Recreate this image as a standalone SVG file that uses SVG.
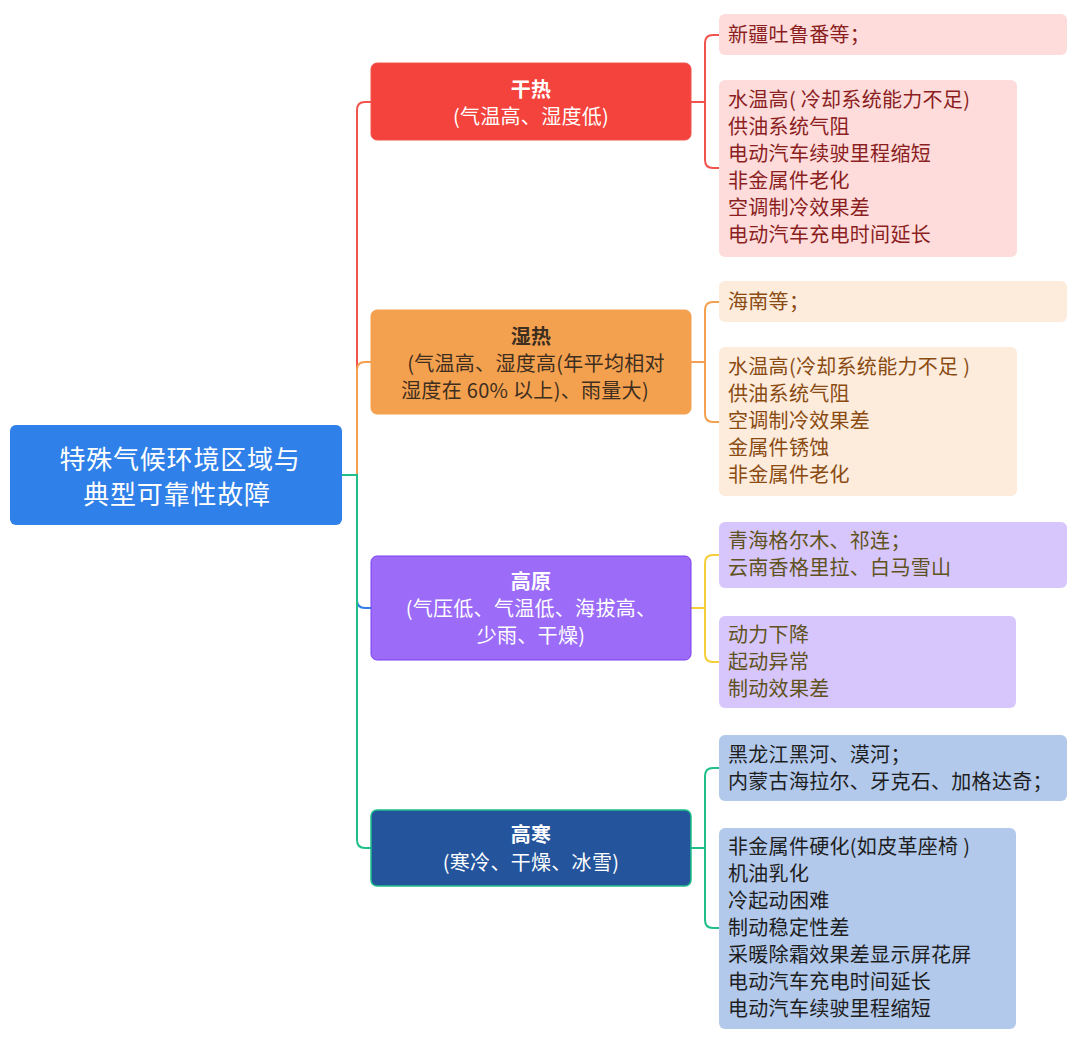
<svg xmlns="http://www.w3.org/2000/svg" width="1080" height="1042" viewBox="0 0 1080 1042">
<style>
text{font-family:"Noto Sans CJK SC","Noto Sans",sans-serif;}
.root{font-size:26px;fill:#ffffff;text-anchor:middle;letter-spacing:0.8px;}
.bt{font-size:20px;text-anchor:middle;letter-spacing:0.3px;}
.bold{font-weight:bold;}
.leaf{font-size:20px;letter-spacing:0.3px;}
.c{fill:none;stroke-width:2;}
</style>
<rect width="1080" height="1042" fill="#ffffff"/>
<g id="connectors">
<path class="c" stroke="#f0544c" d="M342,475 H357 V110 Q357,102 365,102 H371"/>
<path class="c" stroke="#f3a050" d="M342,475 H357 V370 Q357,362 365,362 H371"/>
<path class="c" stroke="#2f7fe6" d="M342,475 H357 V600 Q357,608 365,608 H371"/>
<path class="c" stroke="#1fbe8a" d="M342,475 H357 V840 Q357,848 365,848 H371"/>
<path class="c" stroke="#f0544c" d="M691,102 H705 V43 Q705,35 713,35 H719 M705,102 V160 Q705,168 713,168 H719"/>
<path class="c" stroke="#f3a050" d="M691,362 H705 V310 Q705,302 713,302 H719 M705,362 V414 Q705,422 713,422 H719"/>
<path class="c" stroke="#f5cf3a" d="M691,608 H705 V563 Q705,555 713,555 H719 M705,608 V654 Q705,662 713,662 H719"/>
<path class="c" stroke="#1fbe8a" d="M691,848 H705 V776 Q705,768 713,768 H719 M705,848 V920 Q705,928 713,928 H719"/>
</g>
<g id="root">
<rect x="10" y="425" width="332" height="100" rx="6" fill="#2f80e8"/>
<text class="root" x="180" y="469">特殊气候环境区域与</text>
<text class="root" x="177" y="504">典型可靠性故障</text>
</g>
<g id="ganre">
<rect x="371" y="63" width="320" height="77" rx="6" fill="#f4433c" stroke="#f0544c"/>
<text class="bt bold" x="531" y="97" fill="#ffffff">干热</text>
<text class="bt" x="531" y="124" fill="#ffffff">(气温高、湿度低)</text>
</g>
<g id="shire">
<rect x="371" y="310" width="320" height="104" rx="6" fill="#f4a14f" stroke="#f3a050"/>
<text class="bt bold" x="531" y="344" fill="#3d2e1f">湿热</text>
<text class="bt" x="536" y="371" fill="#3d2e1f">(气温高、湿度高(年平均相对</text>
<text class="bt" x="525" y="398" fill="#3d2e1f">湿度在 60% 以上)、雨量大)</text>
</g>
<g id="gaoyuan">
<rect x="371" y="556" width="320" height="104" rx="6" fill="#9c6cf9" stroke="#7b3ff2"/>
<text class="bt bold" x="531" y="589" fill="#ffffff">高原</text>
<text class="bt" x="531" y="616" fill="#ffffff">(气压低、气温低、海拔高、</text>
<text class="bt" x="531" y="643" fill="#ffffff">少雨、干燥)</text>
</g>
<g id="gaohan">
<rect x="371" y="810" width="320" height="76" rx="6" fill="#23549c" stroke="#1fbe8a" stroke-width="1.5"/>
<text class="bt bold" x="531" y="842" fill="#ffffff">高寒</text>
<text class="bt" x="531" y="870" fill="#ffffff">(寒冷、干燥、冰雪)</text>
</g>
<g id="ganre-region">
<rect x="719" y="14" width="348" height="41" rx="6" fill="#fddcdb"/>
<text class="leaf" x="728" y="42" fill="#8b1e1e">新疆吐鲁番等；</text>
</g>
<g id="ganre-faults">
<rect x="719" y="80" width="298" height="177" rx="6" fill="#fddcdb"/>
<text class="leaf" fill="#8b1e1e"><tspan x="728" y="107">水温高( 冷却系统能力不足)</tspan><tspan x="728" y="134">供油系统气阻</tspan><tspan x="728" y="161">电动汽车续驶里程缩短</tspan><tspan x="728" y="188">非金属件老化</tspan><tspan x="728" y="215">空调制冷效果差</tspan><tspan x="728" y="242">电动汽车充电时间延长</tspan></text>
</g>
<g id="shire-region">
<rect x="719" y="281" width="348" height="41" rx="6" fill="#fdebdc"/>
<text class="leaf" x="728" y="309" fill="#8a4b12">海南等；</text>
</g>
<g id="shire-faults">
<rect x="719" y="347" width="298" height="149" rx="6" fill="#fdebdc"/>
<text class="leaf" fill="#8a4b12"><tspan x="728" y="374">水温高(冷却系统能力不足 )</tspan><tspan x="728" y="401">供油系统气阻</tspan><tspan x="728" y="428">空调制冷效果差</tspan><tspan x="728" y="455">金属件锈蚀</tspan><tspan x="728" y="482">非金属件老化</tspan></text>
</g>
<g id="gaoyuan-region">
<rect x="719" y="522" width="348" height="66" rx="6" fill="#d6c6fb"/>
<text class="leaf" fill="#5f5220"><tspan x="728" y="548">青海格尔木、祁连；</tspan><tspan x="728" y="575">云南香格里拉、白马雪山</tspan></text>
</g>
<g id="gaoyuan-faults">
<rect x="719" y="616" width="297" height="92" rx="6" fill="#d6c6fb"/>
<text class="leaf" fill="#5f5220"><tspan x="728" y="642">动力下降</tspan><tspan x="728" y="669">起动异常</tspan><tspan x="728" y="696">制动效果差</tspan></text>
</g>
<g id="gaohan-region">
<rect x="719" y="735" width="348" height="66" rx="6" fill="#b2c9ec"/>
<text class="leaf" fill="#1e1e1e"><tspan x="728" y="762">黑龙江黑河、漠河；</tspan><tspan x="728" y="789">内蒙古海拉尔、牙克石、加格达奇；</tspan></text>
</g>
<g id="gaohan-faults">
<rect x="719" y="828" width="297" height="201" rx="6" fill="#b2c9ec"/>
<text class="leaf" fill="#1e1e1e"><tspan x="728" y="854">非金属件硬化(如皮革座椅 )</tspan><tspan x="728" y="881">机油乳化</tspan><tspan x="728" y="908">冷起动困难</tspan><tspan x="728" y="935">制动稳定性差</tspan><tspan x="728" y="962">采暖除霜效果差显示屏花屏</tspan><tspan x="728" y="989">电动汽车充电时间延长</tspan><tspan x="728" y="1016">电动汽车续驶里程缩短</tspan></text>
</g>
</svg>
